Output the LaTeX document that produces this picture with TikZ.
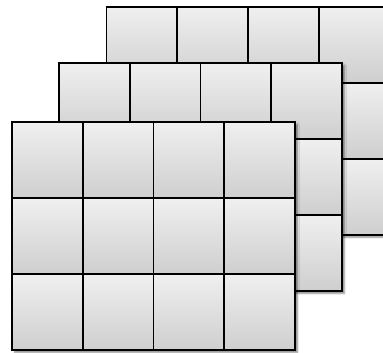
\documentclass[tikz,border=0pt]{standalone}
\usetikzlibrary{positioning,shadows.blur}
\tikzset{
  cellbox/.style={draw, line width=1.9pt, rectangle, top color=gray!12, bottom color=gray!38,
    minimum width=70.75pt, minimum height=76pt, inner sep=0pt, outer sep=0pt},
  sheetbox/.style={rectangle, fill=white, minimum width=283pt, minimum height=228pt,
    inner sep=0pt, outer sep=0pt,
    blur shadow={shadow xshift=2.5pt, shadow yshift=-2.5pt, shadow opacity=45}}
}
\begin{document}
\begin{tikzpicture}[x=1pt, y=1pt]
\useasboundingbox (0,0) rectangle (383,353);

% three sheets, back to front
\foreach \s/\x/\y in {back/106.5/346.3, mid/59/290, front/12/231} {
  \node[sheetbox, anchor=north west] (\s) at (\x,\y) {};
  \foreach \r in {1,2,3} {
    \foreach \c in {1,...,4} {
      \node[cellbox, anchor=north west] (\s-\r-\c) at ({\x+(\c-1)*70.75},{\y-(\r-1)*76}) {};
    }
  }
}

\end{tikzpicture}
\end{document}
